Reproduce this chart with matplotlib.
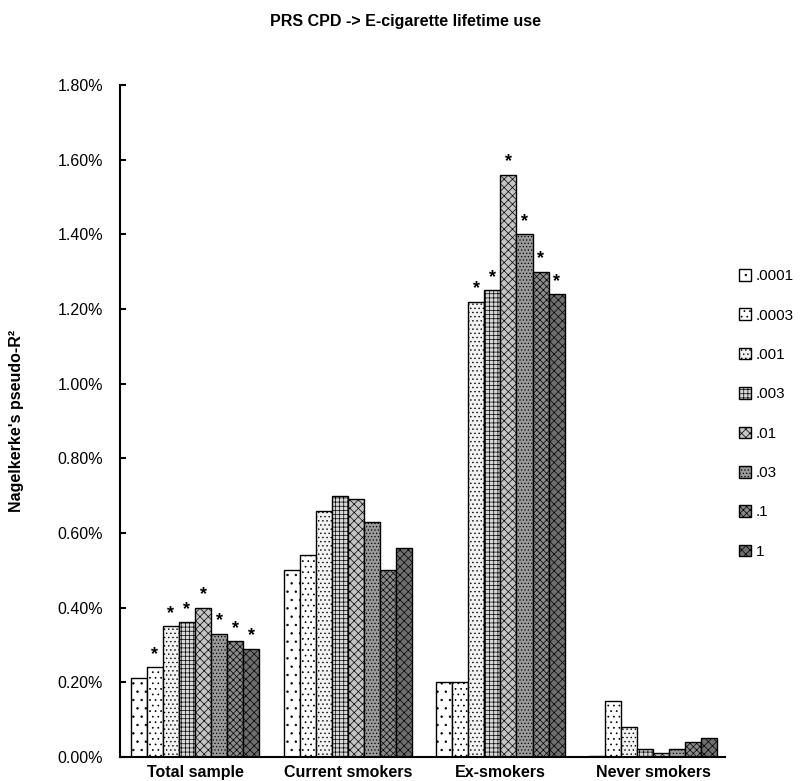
import matplotlib.pyplot as plt
import numpy as np

# data (values in %)
groups = ["Total sample", "Current smokers", "Ex-smokers", "Never smokers"]
thresholds = [".0001", ".0003", ".001", ".003", ".01", ".03", ".1", "1"]

total_sample = [0.21, 0.24, 0.35, 0.36, 0.40, 0.33, 0.31, 0.29]
current_smokers = [0.50, 0.54, 0.66, 0.70, 0.69, 0.63, 0.50, 0.56]
ex_smokers = [0.20, 0.20, 1.22, 1.25, 1.56, 1.40, 1.30, 1.24]
never_smokers = [0.003, 0.15, 0.08, 0.02, 0.01, 0.02, 0.04, 0.05]

# significance stars (group index -> bar indices)
total_stars = [1, 2, 3, 4, 5, 6, 7]
ex_stars = [2, 3, 4, 5, 6, 7]

values = np.array([total_sample, current_smokers, ex_smokers, never_smokers])

faces = ["white", "white", "#f2f2f2", "#d8d8d8", "#c4c4c4", "#9a9a9a", "#8a8a8a", "#6e6e6e"]
hatches = ["..", "...", "....", "++++", "xxxx", ".....", "xxxxx", "xxxx"]

plt.rcParams['font.family'] = ['Liberation Sans', 'DejaVu Sans']
plt.rcParams['hatch.linewidth'] = 0.5

fig = plt.figure(figsize=(8.1, 7.81), dpi=100)
ax = fig.add_axes([0.148, 0.031, 0.747, 0.86])

x = np.arange(len(groups))
w = 0.105
for i in range(len(thresholds)):
    pos = x - 0.42 + w * (i + 0.5)
    ax.bar(pos, values[:, i], width=w, color=faces[i], edgecolor="black",
           hatch=hatches[i], linewidth=1.0, label=thresholds[i])

# stars above bars
for gi, star_list in [(0, total_stars), (2, ex_stars)]:
    for i in star_list:
        pos = gi - 0.42 + w * (i + 0.5)
        ax.text(pos, values[gi, i] + 0.012, "*", ha="center", va="bottom",
                fontsize=13, fontweight="bold")

ax.set_ylim(0, 1.8)
ax.set_xlim(-0.492, 3.47)
ticks = np.arange(0, 1.81, 0.2)
ax.set_yticks(ticks)
ax.set_yticklabels([f"{v:.2f}%" for v in ticks], fontsize=11.5)
ax.set_xticks(x)
ax.set_xticklabels(groups, fontsize=11.5, fontweight="bold")
ax.tick_params(axis="y", direction="in", length=4, width=1.5, pad=12)
ax.tick_params(axis="x", length=0, pad=6)

for s in ["top", "right"]:
    ax.spines[s].set_visible(False)
ax.spines["left"].set_linewidth(1.5)
ax.spines["bottom"].set_linewidth(1.5)

ax.set_ylabel("Nagelkerke's pseudo-R²", fontsize=11.5, fontweight="bold", labelpad=24)
fig.text(0.5, 0.972, "PRS CPD -> E-cigarette lifetime use", ha="center", va="center",
         fontsize=11.5, fontweight="bold")

fig.legend(loc="center left", bbox_to_anchor=(0.895, 0.47), frameon=False,
           fontsize=11, handlelength=0.8, handleheight=0.8, labelspacing=1.65,
           handletextpad=0.3)

fig.savefig("out.png", dpi=100)
